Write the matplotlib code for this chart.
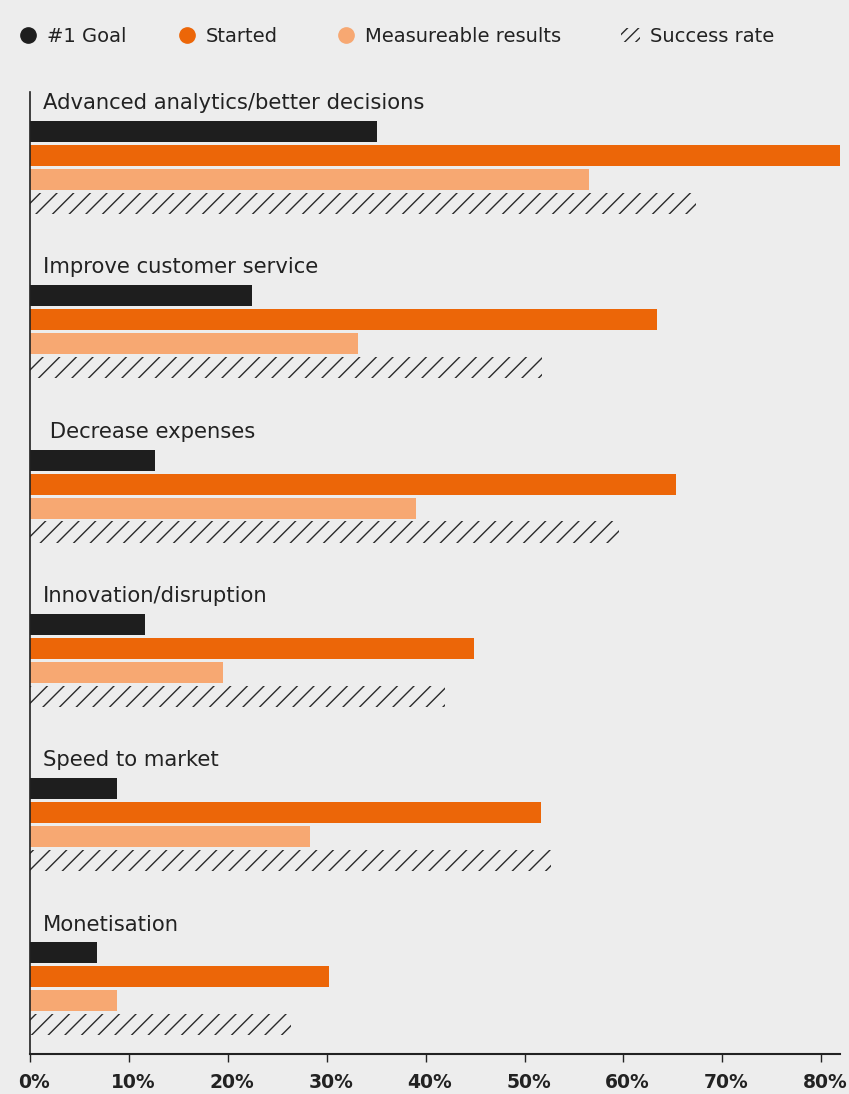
import matplotlib.pyplot as plt
import matplotlib.transforms as mtransforms
from matplotlib.lines import Line2D
from matplotlib.patches import Patch
import numpy as np

categories = [
    "Advanced analytics/better decisions",
    "Improve customer service",
    " Decrease expenses",
    "Innovation/disruption",
    "Speed to market",
    "Monetisation",
]
goal = [35.1, 22.4, 12.6, 11.6, 8.8, 6.8]
started = [82.0, 63.4, 65.3, 44.9, 51.7, 30.2]
measurable = [56.5, 33.2, 39.0, 19.5, 28.3, 8.8]
success = [67.3, 51.8, 59.6, 42.0, 52.7, 26.4]

tick_values = [0, 10, 20, 30, 40, 50, 60, 70, 80]
tick_labels = [f"{v}%" for v in tick_values]

BG = "#ededed"
BLACK = "#1e1e1e"
ORANGE = "#ec6608"
LIGHT = "#f7a872"
HATCH = "#2a2a2a"

plt.rcParams["hatch.linewidth"] = 1.0
plt.rcParams["hatch.color"] = HATCH

W, H = 849, 1094
fig = plt.figure(figsize=(W / 100, H / 100), dpi=100, facecolor=BG)
ax = fig.add_axes([30 / W, 1 - 1054 / H, 810 / W, (1054 - 92) / H])
ax.set_facecolor(BG)

y = np.arange(len(categories))
h = 0.128
step = 0.146

ax.barh(y, goal, height=h, color=BLACK, align="center")
ax.barh(y + step, started, height=h, color=ORANGE)
ax.barh(y + 2 * step, measurable, height=h, color=LIGHT)
ax.barh(y + 3 * step, success, height=h, fill=False, hatch="//",
        edgecolor=HATCH, linewidth=0)

for i, name in enumerate(categories):
    ax.text(1.3, i - 0.172, name, fontsize=15.2, color="#222222",
            va="center", ha="left")

ax.set_xlim(0, 81.9)
ax.set_ylim(5.615, -0.24)
ax.set_yticks([])
ax.set_xticks(tick_values)
ax.set_xticklabels(tick_labels, fontsize=13.5, fontweight="bold", color="#222222")
ax.tick_params(axis="x", length=6, width=1, color="#222222", pad=8)
shift = mtransforms.ScaledTranslation(4 / 100, 0, fig.dpi_scale_trans)
for lab in ax.get_xticklabels():
    lab.set_transform(lab.get_transform() + shift)

for side in ["top", "right"]:
    ax.spines[side].set_visible(False)
ax.spines["left"].set_color("#222222")
ax.spines["left"].set_linewidth(1.2)
ax.spines["bottom"].set_color("#222222")
ax.spines["bottom"].set_linewidth(1.5)

# legend entries laid out one by one along the top row
handles = [
    Line2D([], [], marker="o", linestyle="", markersize=11, color=BLACK),
    Line2D([], [], marker="o", linestyle="", markersize=11, color=ORANGE),
    Line2D([], [], marker="o", linestyle="", markersize=11, color=LIGHT),
    Patch(facecolor="none", edgecolor=HATCH, linewidth=0, hatch="///"),
]
labels = ["#1 Goal", "Started", "Measureable results", "Success rate"]
text_starts = [47, 206, 365, 650]
for handle, label, xs in zip(handles, labels, text_starts):
    leg = fig.legend([handle], [label], loc="center left",
                     bbox_to_anchor=((xs - 29) / W, 1 - 36 / H),
                     frameon=False, fontsize=14, handlelength=1.0,
                     handletextpad=0.5, borderpad=0, borderaxespad=0,
                     labelcolor="#222222")

fig.savefig("out.png", dpi=100, facecolor=BG)
